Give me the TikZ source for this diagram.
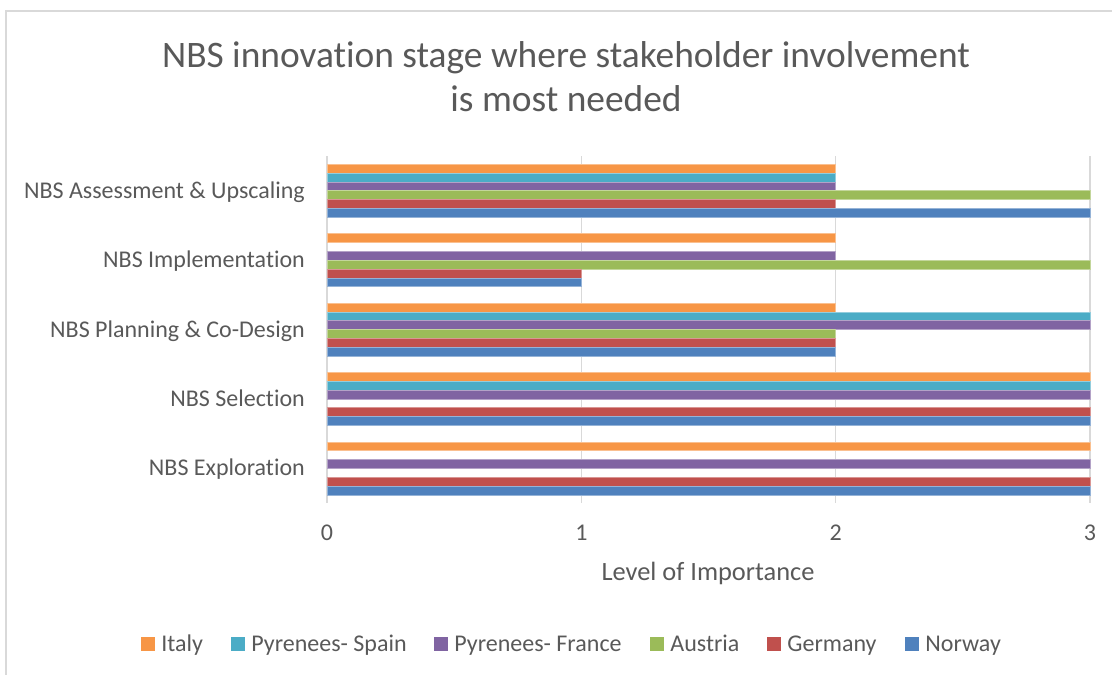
\documentclass[tikz,border=0pt]{standalone}
\usepackage{fontspec}
\setmainfont[Ligatures=NoCommon]{Carlito}
\usetikzlibrary{positioning}
\definecolor{txtgray}{HTML}{595959}
\definecolor{gridgray}{HTML}{D9D9D9}
\definecolor{series0}{HTML}{F79646}
\definecolor{series1}{HTML}{4BACC6}
\definecolor{series2}{HTML}{8064A2}
\definecolor{series3}{HTML}{9BBB59}
\definecolor{series4}{HTML}{C0504D}
\definecolor{series5}{HTML}{4F81BD}

\begin{document}
\begin{tikzpicture}[x=1pt,y=-1pt]
      \tikzset{bar/.style={fill=#1,
          draw=#1!60!white,
          line width=0.5pt},
        catlabel/.style={anchor=base east,inner sep=0pt,text=txtgray,
          font=\fontsize{24}{28}\selectfont},
        ticklabel/.style={anchor=base,inner sep=0pt,text=txtgray,
          font=\fontsize{24}{28}\selectfont},
        legsq/.style={fill=#1,inner sep=0pt,minimum size=14pt},
        legtext/.style={inner sep=0pt,text=txtgray,
          font=\fontsize{24}{28}\selectfont},
        titletext/.style={anchor=base,inner sep=0pt,text=txtgray,
          font=\fontsize{37.4}{44}\selectfont}
      }
      \useasboundingbox (0,0) rectangle (1112,675);
      \draw [gridgray,line width=1.5pt] (6,675) |- (1112,11);
      % title
      \node [titletext] (title) at (566,67) {NBS innovation stage where stakeholder involvement};
      \node [titletext] (title2) at (566,111) {is most needed};
      % grid and axis
      \foreach \t in {0,...,3}
        \draw [gridgray,line width=1.5pt] ({327+254.33*\t},156) -- ({327+254.33*\t},503);
      % bars, top to bottom: Italy, Spain, France, Austria, Germany, Norway
      \foreach \vals [count=\i from 0] in {{2,2,2,3,2,3},{2,0,2,3,1,1},{2,3,3,2,2,2},{3,3,3,0,3,3},{3,0,3,0,3,3}}
        \foreach \v [count=\j from 0] in \vals {
          \ifnum\v>0
            \draw [bar=series\j] (327,156+69.4*\i+8.2+8.83*\j) rectangle ++(254.33*\v,8.83);
          \fi
        }
      % category labels
      \foreach \name/\lbl [count=\i from 0] in {assess/NBS Assessment \& Upscaling,impl/NBS Implementation,
          plan/NBS Planning \& Co-Design,select/NBS Selection,explore/NBS Exploration}
        \node [catlabel] (cat-\name) at (305,198.3+69.4*\i) {\lbl};
      % value axis
      \foreach \t in {0,...,3}
        \node [ticklabel] (tick\t) at ({327+254.33*\t},540) {\t};
      \node [ticklabel,font=\fontsize{26.4}{30}\selectfont] (xtitle) at (708,580.5) {Level of Importance};
      % legend
      \foreach \x/\name/\lbl [count=\j from 0] in {141/italy/Italy,231/spain/Pyrenees- Spain,434/france/Pyrenees- France,
          650/austria/Austria,767/germany/Germany,905/norway/Norway} {
        \node [legsq=series\j] (sq-\name) at (\x+7,644) {};
        \node [legtext,right=6pt of sq-\name.south east,anchor=base west] (leg-\name) {\lbl};
      }
    \end{tikzpicture}
\end{document}
